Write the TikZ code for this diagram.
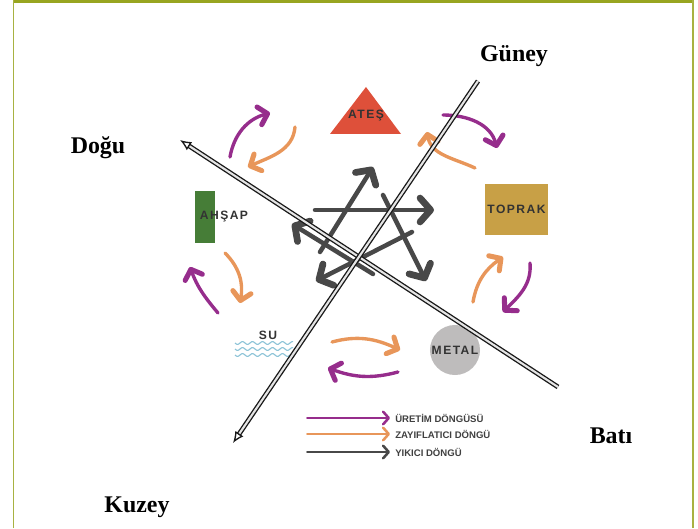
\documentclass[tikz,border=0pt]{standalone}
\usepackage{fontspec}
\setmainfont{Liberation Serif}
\newfontfamily\elfont[LetterSpace=12]{Liberation Sans}
\usepackage{xcolor}
\usepackage{tikz}
\usetikzlibrary{arrows.meta}
\usetikzlibrary{calc}

\definecolor{frameolive}{RGB}{152,165,32}
\definecolor{cyclepurple}{RGB}{150,45,140}
\definecolor{cycleorange}{RGB}{232,150,90}
\definecolor{stardark}{RGB}{72,72,72}
\definecolor{atesred}{RGB}{222,80,58}
\definecolor{toprakbrown}{RGB}{200,160,70}
\definecolor{ahsapgreen}{RGB}{70,125,55}
\definecolor{metalgrey}{RGB}{190,188,188}
\definecolor{sublue}{RGB}{140,195,215}

\begin{document}
\begin{tikzpicture}[x=0.025cm,y=0.025cm,
    dir label/.style={font=\fontsize{17}{20}\selectfont\bfseries},
    element/.style={font=\elfont\fontsize{8.6}{10}\selectfont\bfseries,text=black!80,inner sep=0pt},
    dir line/.style={draw=black!90,line width=0.95pt,double=black!10,double distance=1.5pt,-{Latex[open,length=8pt,width=7pt]}},
    uretim/.style={draw=cyclepurple,line width=2.4pt,line cap=round,line join=round,-{Straight Barb[length=6pt,width=13pt,line width=0pt 1.5,round]}},
    zayif/.style={draw=cycleorange,line width=2.4pt,line cap=round,line join=round,-{Straight Barb[length=6pt,width=13pt,line width=0pt 1.5,round]}},
    yikici/.style={draw=stardark,line width=3.2pt,line cap=round,line join=round,-{Straight Barb[length=7.5pt,width=17pt,line width=0pt 1.5,round]}},
    legend arrow/.style={line width=1.2pt,line cap=round,-{Straight Barb[length=4pt,width=9pt,line width=0pt 1.5,round]}},
    legend text/.style={anchor=west,inner sep=0pt,text=black!75,font=\fontspec{Liberation Sans}\fontsize{6.8}{8}\selectfont\bfseries}]

    \useasboundingbox (0,0) rectangle (698,528);

    % frame
    \fill[frameolive] (13,524.5) rectangle (693,528);
    \draw[frameolive!85!white,line width=1pt] (13.5,0) -- (13.5,528);
    \draw[frameolive!85!white,line width=1pt] (693,0) -- (693,528);

    % elements
    \fill[atesred] (330,394) -- (401,394) -- (366,441) -- cycle;
    \node[element] (ates) at (366,412) {ATEŞ};
    \node[rectangle,fill=toprakbrown,minimum width=1.575cm,minimum height=1.275cm] (toprak-box) at (516.5,318.5) {};
    \node[element] (toprak) at (toprak-box) {TOPRAK};
    \node[rectangle,fill=ahsapgreen,minimum width=0.5cm,minimum height=1.3cm] (ahsap-box) at (205,311) {};
    \node[element] (ahsap) at (224,311) {AHŞAP};
    \node[circle,fill=metalgrey,minimum size=1.25cm] (metal-disc) at (455,178) {};
    \node[element] (metal) at (metal-disc) {METAL};
    \node[element] (su) at (268,193) {SU};
    \foreach \y in {173,179,185}
        \draw[sublue,line width=0.8pt,domain=235:293,samples=60] plot (\x,{\y+1.4*sin(\x*36)});

    % uretim / zayiflatici arrows
    \coordinate (ul-p1) at (230,371);  \coordinate (ul-p2) at (270,415);
    \coordinate (ul-o1) at (295,401);  \coordinate (ul-o2) at (248,361);
    \coordinate (ur-p1) at (443,413);  \coordinate (ur-p2) at (497,380);
    \coordinate (ur-o1) at (475,360);  \coordinate (ur-o2) at (427,396);
    \coordinate (r-o1) at (473,226);   \coordinate (r-o2) at (503,271);
    \coordinate (r-p1) at (530,265);   \coordinate (r-p2) at (503,216);
    \coordinate (l-p1) at (218,215);   \coordinate (l-p2) at (190,261);
    \coordinate (l-o1) at (225,275);   \coordinate (l-o2) at (240,225);
    \coordinate (b-o1) at (332,186);   \coordinate (b-o2) at (400,178);
    \coordinate (b-p1) at (398,156);   \coordinate (b-p2) at (328,160);

    \draw[uretim] (ul-p1) to[out=80,in=195] (ul-p2);
    \draw[zayif] (ul-o1) to[out=265,in=25] (ul-o2);
    \draw[uretim] (ur-p1) to[out=0,in=105] (ur-p2);
    \draw[zayif] (ur-o1) to[out=155,in=280] (ur-o2);
    \draw[zayif] (r-o1) to[out=80,in=215] (r-o2);
    \draw[uretim] (r-p1) to[out=275,in=45] (r-p2);
    \draw[uretim] (l-p1) to[out=130,in=290] (l-p2);
    \draw[zayif] (l-o1) to[out=-45,in=80] (l-o2);
    \draw[zayif] (b-o1) to[out=15,in=155] (b-o2);
    \draw[uretim] (b-p1) to[out=195,in=-20] (b-p2);

    % yikici star
    \coordinate (s1a) at (320,276);  \coordinate (s1b) at (373,361);
    \coordinate (s2a) at (315,318);  \coordinate (s2b) at (434,318);
    \coordinate (s3a) at (383,333);  \coordinate (s3b) at (426,247);
    \coordinate (s4a) at (412,296);  \coordinate (s4b) at (316,247);
    \coordinate (s5a) at (373,254);  \coordinate (s5b) at (292,304);
    \foreach \s in {1,...,5}
        \draw[yikici] (s\s a) -- (s\s b);

    % yon cizgileri
    \coordinate (dogu-start) at (558,141);
    \coordinate (dogu-tip) at (180,388);
    \coordinate (guney-start) at (478,447);
    \coordinate (kuzey-tip) at (233,85);
    \draw[dir line] (dogu-start) -- (dogu-tip);
    \draw[dir line] (guney-start) -- (kuzey-tip);

    \node[dir label] (guney) at (514,472) {Güney};
    \node[dir label] (dogu) at (98,380) {Doğu};
    \node[dir label] (bati) at (611,92) {Batı};
    \node[dir label] (kuzey) at (137,21) {Kuzey};

    % legend
    \coordinate (leg1a) at (307,110); \coordinate (leg1b) at (390,110);
    \coordinate (leg2a) at (307,94);  \coordinate (leg2b) at (390,94);
    \coordinate (leg3a) at (307,76);  \coordinate (leg3b) at (390,76);
    \draw[legend arrow,cyclepurple] (leg1a) -- (leg1b);
    \draw[legend arrow,cycleorange] (leg2a) -- (leg2b);
    \draw[legend arrow,stardark] (leg3a) -- (leg3b);
    \node[legend text] (leg-uretim) at (395,110) {ÜRETİM DÖNGÜSÜ};
    \node[legend text] (leg-zayif) at (395,94) {ZAYIFLATICI DÖNGÜ};
    \node[legend text] (leg-yikici) at (395,76) {YIKICI DÖNGÜ};
\end{tikzpicture}
\end{document}
